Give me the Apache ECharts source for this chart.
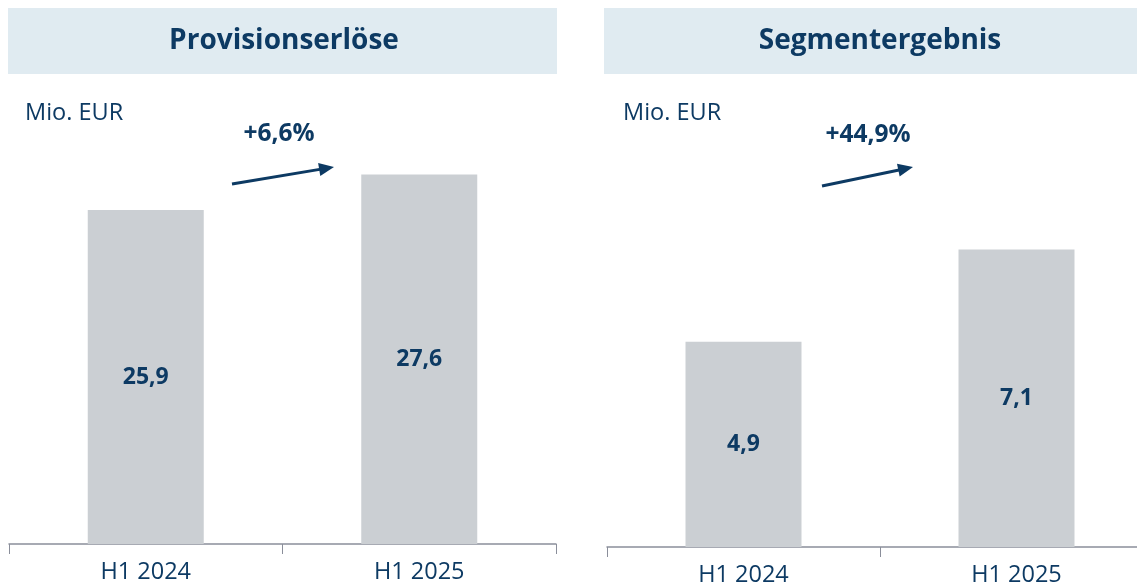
<!DOCTYPE html>
<html>
<head>
<meta charset="utf-8">
<style>
  html, body { margin: 0; padding: 0; background: #fff; }
  #main { width: 1137px; height: 588px; }
</style>
<script src="https://cdn.jsdelivr.net/npm/echarts@6/dist/echarts.min.js"></script>
</head>
<body>
<div id="main"></div>
<script>
// Daten
const categories = ['H1 2024', 'H1 2025'];
const provisionValues = [25.9, 27.6];
const segmentValues = [4.9, 7.1];
const panelTitles = ['Provisionserlöse', 'Segmentergebnis'];
const growthLabels = ['+6,6%', '+44,9%'];
const unitLabel = 'Mio. EUR';

const navy = '#0d3a63';
const barColor = '#cbcfd3';
const boxColor = '#e0ebf1';
const axisColor = '#8a8e9a';
const font = '"Open Sans", Lato, sans-serif';

function fmt(v) {
    return v.toFixed(1).replace('.', ',');
}

// Pfeil als Linie + Spitze
function arrow(x1, y1, x2, y2) {
    let dx = x2 - x1, dy = y2 - y1;
    let len = Math.sqrt(dx * dx + dy * dy);
    let ux = dx / len, uy = dy / len;
    let nx = -uy, ny = ux;
    let hl = 15, hw = 6.5;
    let bx = x2 - ux * hl, by = y2 - uy * hl;
    return [{
        type: 'line',
        shape: {x1: x1, y1: y1, x2: bx + ux * 2, y2: by + uy * 2},
        style: {stroke: navy, lineWidth: 3}
    }, {
        type: 'polygon',
        shape: {points: [[x2, y2], [bx + nx * hw, by + ny * hw], [bx - nx * hw, by - ny * hw]]},
        style: {fill: navy}
    }];
}

function xAxisOf(idx) {
    return {
        type: 'category',
        gridIndex: idx,
        data: categories,
        axisLine: {show: true, lineStyle: {color: axisColor, width: 1.5}},
        axisTick: {show: true, length: 10, lineStyle: {color: axisColor, width: 1}},
        axisLabel: {color: navy, fontSize: 23.5, fontFamily: font, margin: 16}
    };
}

function yAxisOf(idx, min, max) {
    return {
        type: 'value',
        gridIndex: idx,
        min: min,
        max: max,
        show: false,
        splitLine: {show: false}
    };
}

function seriesOf(idx, values) {
    return {
        type: 'bar',
        xAxisIndex: idx,
        yAxisIndex: idx,
        data: values,
        barWidth: 116,
        itemStyle: {color: barColor},
        label: {
            show: true,
            position: 'inside',
            color: navy,
            fontSize: 23,
            fontWeight: 'bold',
            fontFamily: font,
            formatter: function(p) { return fmt(p.value); }
        },
        emphasis: {disabled: true},
        silent: true
    };
}

let graphics = [
    {type: 'rect', shape: {x: 8, y: 8, width: 549, height: 66}, style: {fill: boxColor}},
    {type: 'rect', shape: {x: 604, y: 8, width: 533, height: 66}, style: {fill: boxColor}},
    {type: 'text', x: 284, y: 41, style: {text: panelTitles[0], fill: navy, font: 'bold 28px ' + font, textAlign: 'center', textVerticalAlign: 'middle'}},
    {type: 'text', x: 880, y: 41, style: {text: panelTitles[1], fill: navy, font: 'bold 28px ' + font, textAlign: 'center', textVerticalAlign: 'middle'}},
    {type: 'text', x: 25, y: 113, style: {text: unitLabel, fill: navy, font: '23.5px ' + font, textAlign: 'left', textVerticalAlign: 'middle'}},
    {type: 'text', x: 623, y: 113, style: {text: unitLabel, fill: navy, font: '23.5px ' + font, textAlign: 'left', textVerticalAlign: 'middle'}},
    {type: 'text', x: 279, y: 134, style: {text: growthLabels[0], fill: navy, font: 'bold 24.5px ' + font, textAlign: 'center', textVerticalAlign: 'middle'}},
    {type: 'text', x: 868, y: 135, style: {text: growthLabels[1], fill: navy, font: 'bold 24.5px ' + font, textAlign: 'center', textVerticalAlign: 'middle'}}
];
graphics = graphics.concat(arrow(232, 184, 334, 167), arrow(822, 186, 913, 167));

let chart = echarts.init(document.getElementById('main'), null, {renderer: 'canvas'});
chart.setOption({
    animation: false,
    backgroundColor: '#ffffff',
    grid: [
        {left: 9, width: 547, top: 124, height: 420, outerBoundsMode: 'none'},
        {left: 607, width: 546, top: 128, height: 419, outerBoundsMode: 'none'}
    ],
    xAxis: [xAxisOf(0), xAxisOf(1)],
    yAxis: [yAxisOf(0, 10, 30), yAxisOf(1, 0, 10)],
    series: [seriesOf(0, provisionValues), seriesOf(1, segmentValues)],
    graphic: graphics
});
</script>
</body>
</html>
